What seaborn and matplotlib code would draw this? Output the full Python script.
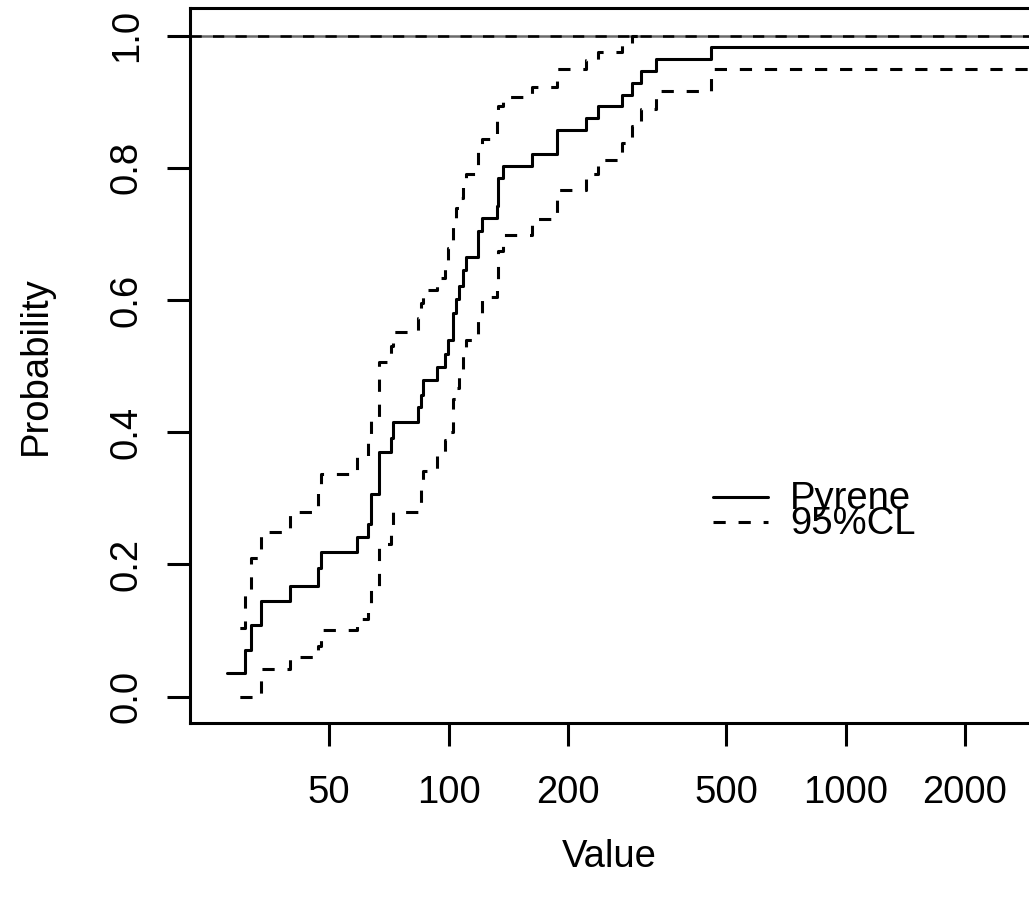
import matplotlib
matplotlib.use("Agg")
import matplotlib.pyplot as plt
from matplotlib.lines import Line2D
import seaborn as sns
import pandas as pd

# ---- data (Kaplan-Meier style ECDF, log x) ----
pyrene_x = [27.7, 30.8, 31.9, 33.8, 39.9, 47.0, 47.7, 58.7, 62.8, 63.7, 66.9, 71.6, 72.3,
            83.9, 85.1, 86.4, 93.7, 98.0, 99.7, 102.5, 104.4, 106.5, 108.6, 110.5, 118.9,
            121.2, 132.1, 132.9, 137.4, 162.6, 187.9, 221.6, 237.3, 273.2, 289.1, 305.4,
            333.2, 458.3, 2982]
pyrene_p = [0.036, 0.071, 0.109, 0.145, 0.168, 0.194, 0.219, 0.241, 0.261, 0.306, 0.370,
            0.392, 0.416, 0.438, 0.456, 0.479, 0.499, 0.519, 0.540, 0.581, 0.601, 0.622,
            0.645, 0.665, 0.705, 0.724, 0.743, 0.785, 0.803, 0.821, 0.858, 0.876, 0.893,
            0.910, 0.929, 0.946, 0.965, 0.983, 0.983]
upper_x = pyrene_x[:36]
upper_p = [0.1035, 0.159, 0.209, 0.249, 0.279, 0.316, 0.337, 0.362, 0.395, 0.422, 0.506,
           0.531, 0.552, 0.573, 0.595, 0.616, 0.634, 0.661, 0.679, 0.719, 0.740, 0.755,
           0.773, 0.791, 0.828, 0.844, 0.876, 0.894, 0.907, 0.922, 0.950, 0.963, 0.975,
           0.988, 1.0, 1.0]
lower_x = pyrene_x
lower_p = [0.0, 0.0, 0.0, 0.041, 0.060, 0.077, 0.100, 0.1175, 0.138, 0.168, 0.2315, 0.260,
           0.279, 0.2935, 0.321, 0.342, 0.366, 0.389, 0.401, 0.451, 0.467, 0.491, 0.515,
           0.539, 0.573, 0.604, 0.631, 0.675, 0.698, 0.722, 0.766, 0.791, 0.8115, 0.837,
           0.863, 0.889, 0.916, 0.949, 0.949]

x_ticks = [50, 100, 200, 500, 1000, 2000]
y_ticks = [0.0, 0.2, 0.4, 0.6, 0.8, 1.0]
legend_labels = ["Pyrene", "95%CL"]
x_label = "Value"
y_label = "Probability"

# ---- style ----
sns.set_style("ticks")
plt.rcParams["font.family"] = ["Liberation Sans", "DejaVu Sans"]
plt.rcParams["text.color"] = "black"
plt.rcParams["axes.labelcolor"] = "black"
plt.rcParams["xtick.color"] = "black"
plt.rcParams["ytick.color"] = "black"
FS = 27.5
LW = 2.2
DASH = (4.0, 4.2)

W, H = 1029, 900
fig = plt.figure(figsize=(W / 100, H / 100), dpi=100)
left_px, right_px, top_px, bottom_px = 190, 1030, 8, 723
ax = fig.add_axes([left_px / W, 1 - bottom_px / H,
                   (right_px - left_px) / W, (bottom_px - top_px) / H])

ax.set_xscale("log")
ax.set_xlim(22.33, 2915)
ax.set_ylim(-0.04, 1.042)

# horizontal reference line at 1
ax.axhline(1.0, color="#6a6a6a", lw=1.8, zorder=1)
ax.axhline(1.0, color="black", lw=1.8, linestyle=(0, (4.5, 4.5)), zorder=1)

df_main = pd.DataFrame({"x": pyrene_x, "p": pyrene_p})
df_up = pd.DataFrame({"x": upper_x, "p": upper_p})
df_lo = pd.DataFrame({"x": lower_x, "p": lower_p})

sns.lineplot(data=df_main, x="x", y="p", ax=ax, color="black", lw=LW,
             drawstyle="steps-post", estimator=None, sort=False, zorder=3)
sns.lineplot(data=df_up, x="x", y="p", ax=ax, color="black", lw=LW,
             drawstyle="steps-post", estimator=None, sort=False,
             linestyle=(DASH[0], DASH), zorder=3)
sns.lineplot(data=df_lo, x="x", y="p", ax=ax, color="black", lw=LW,
             drawstyle="steps-post", estimator=None, sort=False,
             linestyle=(DASH[0], DASH), zorder=3)

ax.set_xticks(x_ticks)
ax.set_xticklabels([str(t) for t in x_ticks])
ax.minorticks_off()
ax.set_yticks(y_ticks)
ax.set_yticklabels([f"{t:.1f}" for t in y_ticks], rotation=90, va="center")
ax.tick_params(axis="both", direction="out", length=16.6, width=LW,
               labelsize=FS, colors="black", labelcolor="black")
ax.tick_params(axis="x", pad=21)
ax.tick_params(axis="y", pad=16)
ax.set_xlabel("")
ax.set_ylabel("")

for s in ["left", "bottom", "top"]:
    ax.spines[s].set_visible(True)
    ax.spines[s].set_linewidth(LW)
    ax.spines[s].set_color("black")
ax.spines["right"].set_visible(False)

fig.text(609 / W, 1 - 857 / H, x_label, ha="center", va="center",
         fontsize=FS, color="black")
fig.text(36 / W, 1 - 365.5 / H, y_label, ha="center", va="center",
         rotation=90, fontsize=FS, color="black")

# legend (no frame, tight rows as in the reference)
def fx(px):
    return px / W

def fy(py):
    return 1 - py / H

fig.add_artist(Line2D([fx(713), fx(768)], [fy(497), fy(497)], color="black", lw=LW))
fig.add_artist(Line2D([fx(713), fx(768)], [fy(522), fy(522)], color="black", lw=LW,
                      linestyle=(0, DASH)))
fig.text(fx(790), fy(499), legend_labels[0], ha="left", va="center",
         fontsize=FS, color="black")
fig.text(fx(790), fy(524), legend_labels[1], ha="left", va="center",
         fontsize=FS, color="black")

fig.savefig("out.png", dpi=100)
